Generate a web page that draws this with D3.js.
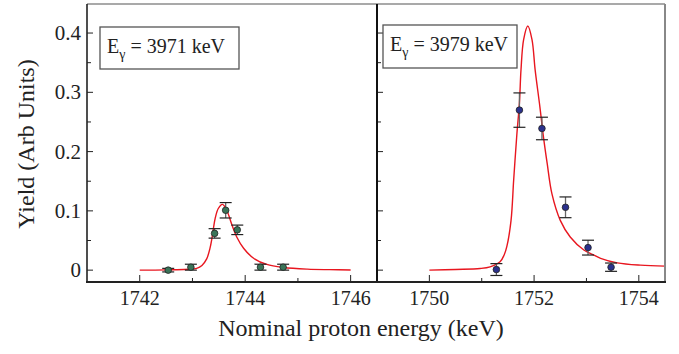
<!DOCTYPE html>
<html><head><meta charset="utf-8">
<script src="https://cdn.jsdelivr.net/npm/d3@7"></script>
</head><body style="margin:0">
<script>
const FONT = "Liberation Serif";
// Data
const yTicks = [0, 0.1, 0.2, 0.3, 0.4];
const yTickLabels = ["0", "0.1", "0.2", "0.3", "0.4"];
const leftXTicks = [1742, 1744, 1746];
const rightXTicks = [1750, 1752, 1754];
const leftLabel = "3971 keV";
const rightLabel = "3979 keV";
// measured points: [energy, yield, error]
const leftPoints = [
  [1742.54, 0.000, 0.003],
  [1742.97, 0.005, 0.005],
  [1743.42, 0.062, 0.008],
  [1743.63, 0.101, 0.013],
  [1743.85, 0.068, 0.008],
  [1744.29, 0.005, 0.005],
  [1744.72, 0.005, 0.005]
];
const rightPoints = [
  [1751.28, 0.001, 0.010],
  [1751.72, 0.270, 0.029],
  [1752.15, 0.239, 0.019],
  [1752.60, 0.106, 0.0175],
  [1753.03, 0.038, 0.0125],
  [1753.47, 0.005, 0.007]
];
// fit curves
const leftCurve = [
  [1742.0, 0.0], [1742.5, 0.0005], [1743.0, 0.002], [1743.08, 0.003], [1743.18, 0.008],
  [1743.27, 0.019], [1743.33, 0.036], [1743.37, 0.054], [1743.43, 0.087], [1743.49, 0.104],
  [1743.57, 0.111], [1743.65, 0.101], [1743.75, 0.076], [1743.84, 0.056], [1743.97, 0.037],
  [1744.16, 0.020], [1744.41, 0.0096], [1744.73, 0.0045], [1745.18, 0.0017], [1745.6, 0.0008], [1746.0, 0.0003]
];
const rightCurve = [
  [1750.0, 0.0], [1750.5, 0.0012], [1750.97, 0.0028], [1751.16, 0.0056], [1751.35, 0.014],
  [1751.43, 0.026], [1751.48, 0.040], [1751.56, 0.084], [1751.61, 0.152], [1751.67, 0.228],
  [1751.72, 0.282], [1751.75, 0.338], [1751.80, 0.389], [1751.88, 0.412], [1751.96, 0.389],
  [1752.02, 0.338], [1752.11, 0.276], [1752.18, 0.224], [1752.25, 0.180], [1752.34, 0.129],
  [1752.50, 0.084], [1752.69, 0.056], [1752.95, 0.034], [1753.08, 0.028], [1753.27, 0.020],
  [1753.59, 0.0123], [1754.03, 0.0084], [1754.5, 0.0068]
];

const W = 679, H = 354;
const svg = d3.select("body").append("svg").attr("width", W).attr("height", H)
  .attr("font-family", FONT).style("display", "block");
const topY = 4, bottomY = 282;
const y = d3.scaleLinear().domain([-0.02, 0.449]).range([bottomY, topY]);
const xL = d3.scaleLinear().domain([1741, 1746.5]).range([87, 377]);
const xR = d3.scaleLinear().domain([1749, 1754.5]).range([377, 665]);

svg.append("defs").append("clipPath").attr("id", "clipR")
  .append("rect").attr("x", 377).attr("y", topY).attr("width", 288).attr("height", bottomY - topY);

function styleText(sel, size) {
  sel.attr("font-size", size).attr("font-family", FONT).style("font-family", FONT).attr("fill", "#222");
}

function panel(x, majors, pts, curve, fill, clip, showY) {
  const g = svg.append("g");
  const [x0, x1] = x.range();
  g.append("line").attr("x1", x0).attr("x2", x1).attr("y1", topY).attr("y2", topY)
    .attr("stroke", "#555").attr("stroke-width", 1.2);
  const [d0, d1] = x.domain();
  const minors = d3.range(Math.ceil(d0), Math.floor(d1) + 1).filter(v => x(v) > x0 + 1 && x(v) < x1 - 1);
  g.selectAll(".xt").data(minors).enter().append("line")
    .attr("x1", d => x(d)).attr("x2", d => x(d))
    .attr("y1", bottomY).attr("y2", d => bottomY - (majors.includes(d) ? 7 : 4))
    .attr("stroke", "#222").attr("stroke-width", 1);
  g.selectAll(".xl").data(majors).enter().append("text")
    .attr("x", d => x(d)).attr("y", bottomY + 23).attr("text-anchor", "middle")
    .text(d3.format("d"))
    .call(s => styleText(s, 20));
  const yMin = [0, 0.05, 0.1, 0.15, 0.2, 0.25, 0.3, 0.35, 0.4];
  g.selectAll(".yt").data(yMin).enter().append("line")
    .attr("x1", x0).attr("x2", (d, i) => x0 + (i % 2 === 0 ? 6 : 4))
    .attr("y1", d => y(d)).attr("y2", d => y(d))
    .attr("stroke", "#222").attr("stroke-width", 1);
  if (showY) {
    g.selectAll(".yl").data(yTicks).enter().append("text")
      .attr("x", x0 - 6).attr("y", d => y(d) + 7).attr("text-anchor", "end")
      .text((d, i) => yTickLabels[i])
      .call(s => styleText(s, 21));
  }
  const line = d3.line().x(d => x(d[0])).y(d => y(d[1])).curve(d3.curveCatmullRom.alpha(0.5));
  const cp = g.append("path").datum(curve).attr("d", line)
    .attr("fill", "none").attr("stroke", "#e8161f").attr("stroke-width", 1.4);
  if (clip) cp.attr("clip-path", "url(#clipR)");
  const eb = g.selectAll(".eb").data(pts).enter().append("g");
  eb.append("line").attr("x1", d => x(d[0])).attr("x2", d => x(d[0]))
    .attr("y1", d => y(d[1] - d[2])).attr("y2", d => y(d[1] + d[2]))
    .attr("stroke", "#666").attr("stroke-width", 1.3);
  [1, -1].forEach(s => {
    eb.append("line").attr("x1", d => x(d[0]) - 6).attr("x2", d => x(d[0]) + 6)
      .attr("y1", d => y(d[1] + s * d[2])).attr("y2", d => y(d[1] + s * d[2]))
      .attr("stroke", "#222").attr("stroke-width", 1.2);
  });
  eb.append("circle").attr("cx", d => x(d[0])).attr("cy", d => y(d[1])).attr("r", 3.3)
    .attr("fill", fill).attr("stroke", "#222").attr("stroke-width", 0.8);
  return g;
}

panel(xL, leftXTicks, leftPoints, leftCurve, "#3a7458", false, true);
panel(xR, rightXTicks, rightPoints, rightCurve, "#2b318c", true, false);

svg.append("line").attr("x1", 87).attr("x2", 87).attr("y1", topY).attr("y2", bottomY + 1)
  .attr("stroke", "#222").attr("stroke-width", 1.6);
svg.append("line").attr("x1", 377).attr("x2", 377).attr("y1", topY).attr("y2", bottomY + 1)
  .attr("stroke", "#111").attr("stroke-width", 2);
svg.append("line").attr("x1", 665).attr("x2", 665).attr("y1", topY).attr("y2", bottomY + 1)
  .attr("stroke", "#888").attr("stroke-width", 2);
svg.append("line").attr("x1", 86).attr("x2", 666).attr("y1", bottomY).attr("y2", bottomY)
  .attr("stroke", "#222").attr("stroke-width", 1.8);

function box(x, yTop, w, h, label) {
  svg.append("rect").attr("x", x).attr("y", yTop).attr("width", w).attr("height", h)
    .attr("fill", "#fff").attr("stroke", "#555").attr("stroke-width", 1.3);
  const t = svg.append("text").attr("x", x + 7).attr("y", yTop + 26);
  styleText(t, 20);
  t.append("tspan").text("E");
  t.append("tspan").text("γ").attr("font-size", 14).attr("dy", 6);
  t.append("tspan").text(" = " + label).attr("dy", -6);
}
box(100, 27, 139, 42, leftLabel);
box(383, 25, 134, 43, rightLabel);

styleText(svg.append("text").attr("x", 361).attr("y", 336).attr("text-anchor", "middle")
  .text("Nominal proton energy (keV)"), 24);
styleText(svg.append("text").attr("transform", "translate(34,144) rotate(-90)").attr("text-anchor", "middle")
  .text("Yield (Arb Units)"), 24);
</script>
</body></html>
